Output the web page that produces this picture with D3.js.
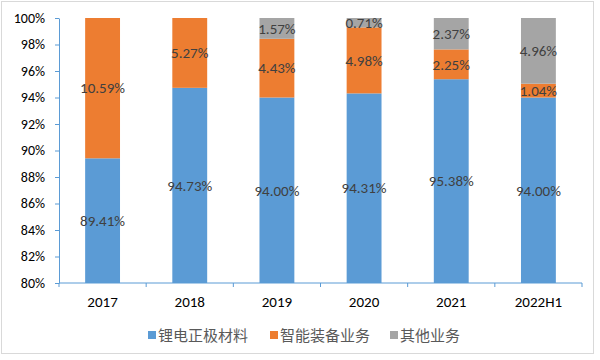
<!DOCTYPE html>
<html>
<head>
<meta charset="utf-8">
<script src="https://cdn.jsdelivr.net/npm/d3@7/dist/d3.min.js"></script>
<style>
  html, body { margin: 0; padding: 0; background: #fff; }
  svg { display: block; font-family: "Microsoft YaHei", "Noto Sans CJK SC", "DejaVu Sans", sans-serif; }
</style>
</head>
<body>
<svg id="chart" width="600" height="360"></svg>
<script>
const categories = ["2017", "2018", "2019", "2020", "2021", "2022H1"];
const seriesNames = ["锂电正极材料", "智能装备业务", "其他业务"];
const cathode = [89.41, 94.73, 94.00, 94.31, 95.38, 94.00];
const equipment = [10.59, 5.27, 4.43, 4.98, 2.25, 1.04];
const others = [0, 0, 1.57, 0.71, 2.37, 4.96];
const yTicks = [80, 82, 84, 86, 88, 90, 92, 94, 96, 98, 100];
const colors = ["#5B9BD5", "#ED7D31", "#A5A5A5"];

(function () {
const svg = d3.select("#chart");
svg.append("rect").attr("x", 1.5).attr("y", 1.5).attr("width", 592).attr("height", 352)
  .attr("fill", "#fff").attr("stroke", "#d9d9d9").attr("stroke-width", 1);

const mLeft = 59, mRight = 582, mTop = 18, mBottom = 283;
const x = d3.scaleBand().domain(categories).range([mLeft, mRight]).paddingInner(0.6).paddingOuter(0.3);
const y = d3.scaleLinear().domain([80, 100]).range([mBottom, mTop]);

const rows = categories.map((c, i) => ({ cat: c, s0: cathode[i], s1: equipment[i], s2: others[i] }));
const stacked = d3.stack().keys(["s0", "s1", "s2"])(rows);

const axisColor = "#5B9BD5";
const numFont = "Calibri, Carlito, 'Liberation Sans', 'DejaVu Sans', sans-serif";

stacked.forEach((layer, k) => {
  svg.append("g").selectAll("rect").data(layer).join("rect")
    .attr("x", d => x(d.data.cat))
    .attr("width", x.bandwidth())
    .attr("y", d => y(Math.min(100, d[1])))
    .attr("height", d => Math.max(0, y(Math.max(80, d[0])) - y(Math.min(100, d[1]))))
    .attr("fill", colors[k]);
});

const yAxis = d3.axisLeft(y).tickValues(yTicks).tickFormat(d => d + "%").tickSize(4).tickSizeOuter(0);
const gy = svg.append("g").attr("transform", `translate(${mLeft},0)`).call(yAxis);
gy.select(".domain").attr("stroke", axisColor);
gy.selectAll(".tick line").attr("stroke", axisColor);
gy.selectAll(".tick text").attr("fill", "#000").attr("font-size", 14).attr("x", -14)
  .attr("font-family", numFont);

const gx = svg.append("g").attr("transform", `translate(0,${mBottom})`);
gx.append("line").attr("x1", mLeft).attr("x2", mRight).attr("y1", 0).attr("y2", 0).attr("stroke", axisColor);
const bounds = d3.range(categories.length + 1).map(i => mLeft + i * (mRight - mLeft) / categories.length);
gx.selectAll("line.tk").data(bounds).join("line").attr("class", "tk")
  .attr("x1", d => d).attr("x2", d => d).attr("y1", 0).attr("y2", 4).attr("stroke", axisColor);
gx.selectAll("text").data(categories).join("text")
  .attr("x", d => x(d) + x.bandwidth() / 2)
  .attr("y", 24)
  .attr("text-anchor", "middle")
  .attr("font-size", 15)
  .attr("font-family", numFont)
  .attr("fill", "#000")
  .text(d => d);

stacked.forEach((layer, k) => {
  svg.append("g").selectAll("text").data(layer.filter(d => d[1] - d[0] > 0)).join("text")
    .attr("x", d => x(d.data.cat) + x.bandwidth() / 2)
    .attr("y", d => (y(Math.max(80, d[0])) + y(Math.min(100, d[1]))) / 2)
    .attr("dy", "0.35em")
    .attr("text-anchor", "middle")
    .attr("font-size", 15)
    .attr("font-family", numFont)
    .attr("fill", "#404040")
    .text(d => (d[1] - d[0]).toFixed(2) + "%");
});

const legendX = [148, 270, 390];
const lg = svg.append("g");
seriesNames.forEach((n, i) => {
  lg.append("rect").attr("x", legendX[i]).attr("y", 331).attr("width", 8).attr("height", 8).attr("fill", colors[i]);
  lg.append("text").attr("x", legendX[i] + 10).attr("y", 335).attr("dy", "0.38em")
    .attr("font-size", 15).attr("fill", "#595959").text(n);
});
})();
</script>
</body>
</html>
